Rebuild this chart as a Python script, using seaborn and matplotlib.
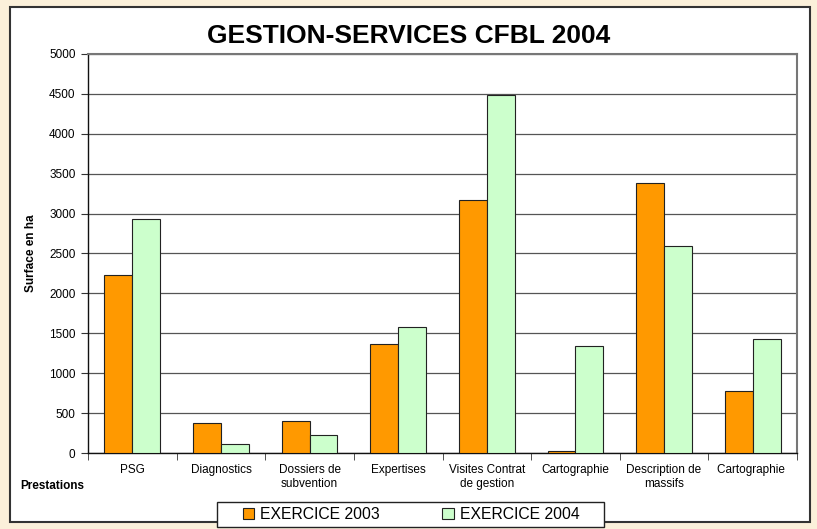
import matplotlib
matplotlib.use("Agg")
import matplotlib.pyplot as plt
import seaborn as sns
import pandas as pd
from matplotlib.patches import Rectangle, Patch
from matplotlib.ticker import FixedLocator

categories = ["PSG", "Diagnostics", "Dossiers de\nsubvention", "Expertises",
              "Visites Contrat\nde gestion", "Cartographie", "Description de\nmassifs",
              "Cartographie "]
exercice_2003 = [2230, 370, 400, 1370, 3170, 20, 3380, 780]
exercice_2004 = [2930, 110, 220, 1580, 4480, 1340, 2590, 1430]
series = ["EXERCICE 2003", "EXERCICE 2004"]
colors = ["#FF9900", "#CCFFCC"]

df = pd.DataFrame({
    "Prestations": categories * 2,
    "Surface": exercice_2003 + exercice_2004,
    "Exercice": [series[0]] * len(categories) + [series[1]] * len(categories),
})

sns.set_style("white")
plt.rcParams["font.family"] = ["Liberation Sans", "DejaVu Sans"]
plt.rcParams["text.color"] = "black"
plt.rcParams["xtick.color"] = "black"
plt.rcParams["ytick.color"] = "black"
plt.rcParams["axes.labelcolor"] = "black"

fig = plt.figure(figsize=(8.17, 5.29), dpi=100, facecolor="#FBF0DA")
# white panel with border, behind everything
fig.patches.append(Rectangle((10 / 817, 7 / 529), 800 / 817, 515 / 529, transform=fig.transFigure,
                             facecolor="white", edgecolor="#333333", linewidth=1.5, zorder=-5))

ax = fig.add_axes([88 / 817, 1 - 453 / 529, 709 / 817, 399 / 529])
ax.set_facecolor("white")

sns.barplot(data=df, x="Prestations", y="Surface", hue="Exercice", palette=colors,
            saturation=1, width=0.63, edgecolor="#222222", linewidth=0.8, ax=ax,
            legend=False, zorder=3)

ax.set_ylim(0, 5000)
ax.set_xlim(-0.5, len(categories) - 0.5)
ax.set_yticks(range(0, 5001, 500))
ax.yaxis.grid(True, color="#555555", linewidth=0.9, zorder=0)
ax.set_axisbelow(True)

ax.tick_params(axis="y", labelsize=8.5, length=5, direction="out", left=True, color="#333333", pad=4)
ax.tick_params(axis="x", which="major", length=0, labelsize=8.5, pad=8)
ax.xaxis.set_minor_locator(FixedLocator([i - 0.5 for i in range(len(categories) + 1)]))
ax.tick_params(axis="x", which="minor", length=5, direction="out", bottom=True, color="#333333")

for side in ["top", "right"]:
    ax.spines[side].set_color("#777777")
    ax.spines[side].set_linewidth(1.5)
for side in ["left", "bottom"]:
    ax.spines[side].set_color("#111111")
    ax.spines[side].set_linewidth(1.0)

ax.set_xlabel("")
ax.set_ylabel("Surface en ha", fontsize=8.5, fontweight="bold", labelpad=8.5)
fig.text(52 / 817, 1 - 486 / 529, "Prestations", fontsize=8.5, fontweight="bold",
         ha="center", va="center")

fig.suptitle("GESTION-SERVICES CFBL 2004", x=0.5, y=1 - 36 / 529, fontsize=19,
             fontweight="bold", va="center")

# legend box drawn separately for its wider side padding
fig.patches.append(Rectangle((217 / 817, 1 - 527 / 529), 387 / 817, 25 / 529,
                             transform=fig.transFigure, facecolor="white",
                             edgecolor="#222222", linewidth=1.0, zorder=-1))
handles = [Patch(facecolor=c, edgecolor="#222222", linewidth=0.8) for c in colors]
fig.legend(handles, series, loc="center", bbox_to_anchor=(411 / 817, 1 - 514.5 / 529),
           ncol=2, fontsize=11.3, frameon=False, borderpad=0.3,
           columnspacing=4.0, handlelength=0.75, handleheight=0.75, handletextpad=0.35)

fig.savefig("out.png", dpi=100, facecolor=fig.get_facecolor())
